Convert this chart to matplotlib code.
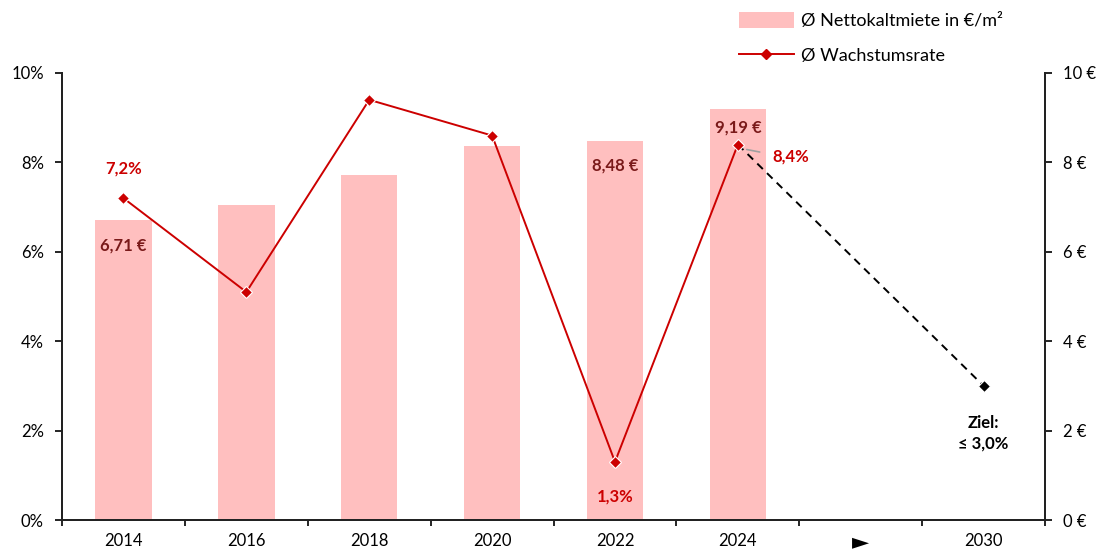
import matplotlib.pyplot as plt
from matplotlib.patches import Patch
from matplotlib.lines import Line2D
from matplotlib.ticker import FuncFormatter

plt.rcParams['font.family'] = ['Lato', 'DejaVu Sans']

# --- data ---
categories = ['2014', '2016', '2018', '2020', '2022', '2024', '►', '2030']
rent_eur = [6.71, 7.05, 7.72, 8.37, 8.48, 9.19]          # bars, right axis
growth_pct = [7.2, 5.1, 9.4, 8.6, 1.3, 8.4]               # line, left axis
target_pct = 3.0                                          # 2030 goal

bar_color = '#ffbfbf'
line_color = '#cc0000'
label_dark = '#7a1a1a'

fig = plt.figure(figsize=(11.04, 5.58), dpi=100)
ax = fig.add_axes([0.0562, 0.0681, 0.8904, 0.8011])   # percent axis (left)
ax2 = ax.twinx()                                     # euro axis (right)

x = list(range(len(categories)))
n = len(rent_eur)

# bars on euro axis, drawn behind the line
ax2.bar(x[:n], rent_eur, width=0.46, color=bar_color, zorder=1)
ax.set_zorder(ax2.get_zorder() + 1)
ax.patch.set_visible(False)

# growth line
ax.plot(x[:n], growth_pct, color=line_color, lw=1.4, marker='D', ms=6,
        mfc=line_color, mec='white', mew=0.8, zorder=3)
# dashed target line
ax.plot([x[n - 1], x[-1]], [growth_pct[-1], target_pct], color='black',
        lw=1.4, ls=(0, (4, 3)), zorder=2)
ax.plot([x[-1]], [target_pct], marker='D', ms=6, color='black',
        mec='white', mew=0.8, zorder=3)

# axes
ax.set_xlim(-0.5, len(categories) - 0.5)
ax.set_ylim(0, 10)
ax2.set_ylim(0, 10)
ax.set_yticks(range(0, 11, 2))
ax2.set_yticks(range(0, 11, 2))
ax.yaxis.set_major_formatter(FuncFormatter(lambda v, p: f'{int(v)}%'))
ax2.yaxis.set_major_formatter(FuncFormatter(lambda v, p: f'{int(v)} €'))

ax.set_xticks([i - 0.5 for i in range(len(categories) + 1)])
ax.set_xticklabels([])
ax.set_xticks(x, minor=True)
ax.set_xticklabels(categories, minor=True)
ax.tick_params(axis='x', which='major', length=4, width=1.2, direction='out')
ax.tick_params(axis='x', which='minor', length=0, pad=9, labelsize=12)
for lbl in ax.xaxis.get_minorticklabels():
    if lbl.get_text() == '►':
        lbl.set_fontsize(16)

for a in (ax, ax2):
    a.spines['top'].set_visible(False)
    for s in ('left', 'right', 'bottom'):
        a.spines[s].set_linewidth(1.4)
        a.spines[s].set_color('#222222')
ax.tick_params(axis='y', length=5, width=1.2, labelsize=12, pad=8)
ax2.tick_params(axis='y', length=5, width=1.2, labelsize=12, pad=8)

# value labels
fs = 12
ax.annotate('7,2%', (x[0], growth_pct[0]), xytext=(0, 21), textcoords='offset points',
            ha='center', va='center', color=line_color, fontsize=fs, fontweight='bold')
ax2.annotate('6,71 €', (x[0], rent_eur[0]), xytext=(0, -18), textcoords='offset points',
             ha='center', va='center', color=label_dark, fontsize=fs, fontweight='bold')
ax2.annotate('8,48 €', (x[4], rent_eur[4]), xytext=(0, -18), textcoords='offset points',
             ha='center', va='center', color=label_dark, fontsize=fs, fontweight='bold')
ax2.annotate('9,19 €', (x[5], rent_eur[5]), xytext=(0, -13), textcoords='offset points',
             ha='center', va='center', color=label_dark, fontsize=fs, fontweight='bold')
ax.annotate('1,3%', (x[4], growth_pct[4]), xytext=(0, -25), textcoords='offset points',
            ha='center', va='center', color=line_color, fontsize=fs, fontweight='bold')
ax.annotate('8,4%', (x[5], growth_pct[5]), xytext=(38, -9), textcoords='offset points',
            ha='center', va='center', color=line_color, fontsize=fs, fontweight='bold')
ax.annotate('', (x[5] + 0.05, growth_pct[5] - 0.1), xytext=(x[5] + 0.2, growth_pct[5] - 0.18),
            arrowprops=dict(arrowstyle='-', color='#a0a0a0', lw=1.2))
ax.annotate('Ziel:\n≤ 3,0%', (x[-1], target_pct), xytext=(0, -34), textcoords='offset points',
            ha='center', va='center', color='black', fontsize=fs, fontweight='bold',
            linespacing=1.4)

# legend
handles = [Patch(facecolor=bar_color, edgecolor='none'),
           Line2D([0], [0], color=line_color, lw=1.4, marker='D', ms=5, mfc=line_color, mec=line_color)]
fig.legend(handles, ['Ø Nettokaltmiete in €/m²', 'Ø Wachstumsrate'],
           loc='upper left', bbox_to_anchor=(0.655, 1.008), frameon=False,
           fontsize=13, handlelength=3.0, handleheight=1.0, labelspacing=1.0,
           handletextpad=0.4)

fig.savefig('out.png', dpi=100)
